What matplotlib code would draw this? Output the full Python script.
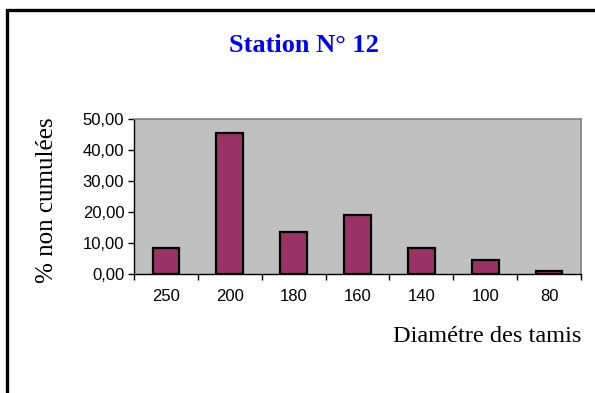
import matplotlib.pyplot as plt
from matplotlib.patches import Rectangle
from matplotlib.ticker import FuncFormatter, FixedLocator

# Sieve diameters and non-cumulative percentages
diametres = ["250", "200", "180", "160", "140", "100", "80"]
pourcentages = [8.5, 45.5, 13.7, 19.0, 8.5, 4.6, 0.9]
y_ticks = [0, 10, 20, 30, 40, 50]

fig = plt.figure(figsize=(5.95, 3.93), dpi=100)
fig.patch.set_facecolor("white")

# Outer frame of the chart block
frame = Rectangle((7 / 595, -0.2), 1.2, 1.2 - 10 / 393,
                  transform=fig.transFigure, fill=False,
                  edgecolor="black", linewidth=2.4)
fig.patches.append(frame)

ax = fig.add_axes([134 / 595, 119 / 393, 447 / 595, 155 / 393])
ax.set_facecolor("#C0C0C0")

x = range(len(diametres))
ax.bar(x, pourcentages, width=0.42, color="#993366",
       edgecolor="black", linewidth=1.6, zorder=3)

ax.set_xlim(-0.5, len(diametres) - 0.5)
ax.set_ylim(0, 50)

# Tick marks between categories, labels at centers
ax.set_xticks(list(x))
ax.set_xticklabels(diametres, family="Liberation Sans", fontsize=12)
ax.xaxis.set_minor_locator(FixedLocator([i - 0.5 for i in range(len(diametres) + 1)]))
ax.tick_params(axis="x", which="major", length=0, pad=11)
ax.tick_params(axis="x", which="minor", length=4, direction="out", width=1)

ax.set_yticks(y_ticks)
ax.yaxis.set_major_formatter(FuncFormatter(lambda v, p: f"{v:.2f}".replace(".", ",")))
ax.tick_params(axis="y", length=4, direction="out", width=1, pad=3)
for lab in ax.get_yticklabels():
    lab.set_family("Liberation Sans")
    lab.set_fontsize(12)

for side in ["top", "right"]:
    ax.spines[side].set_color("#808080")
    ax.spines[side].set_linewidth(1.2)
for side in ["left", "bottom"]:
    ax.spines[side].set_color("black")
    ax.spines[side].set_linewidth(1.0)

fig.text(304 / 595, 1 - 46 / 393, "Station N° 12", color="#0000FF",
         family="Liberation Serif", fontweight="bold", fontsize=19,
         ha="center", va="center")
fig.text(47 / 595, 1 - 200 / 393, "% non cumulées", rotation=90,
         family="Liberation Serif", fontsize=18, ha="center", va="center")
fig.text(581 / 595, 1 - 336 / 393, "Diamétre des tamis",
         family="Liberation Serif", fontsize=17.5, ha="right", va="center")

fig.savefig("out.png", dpi=100)
